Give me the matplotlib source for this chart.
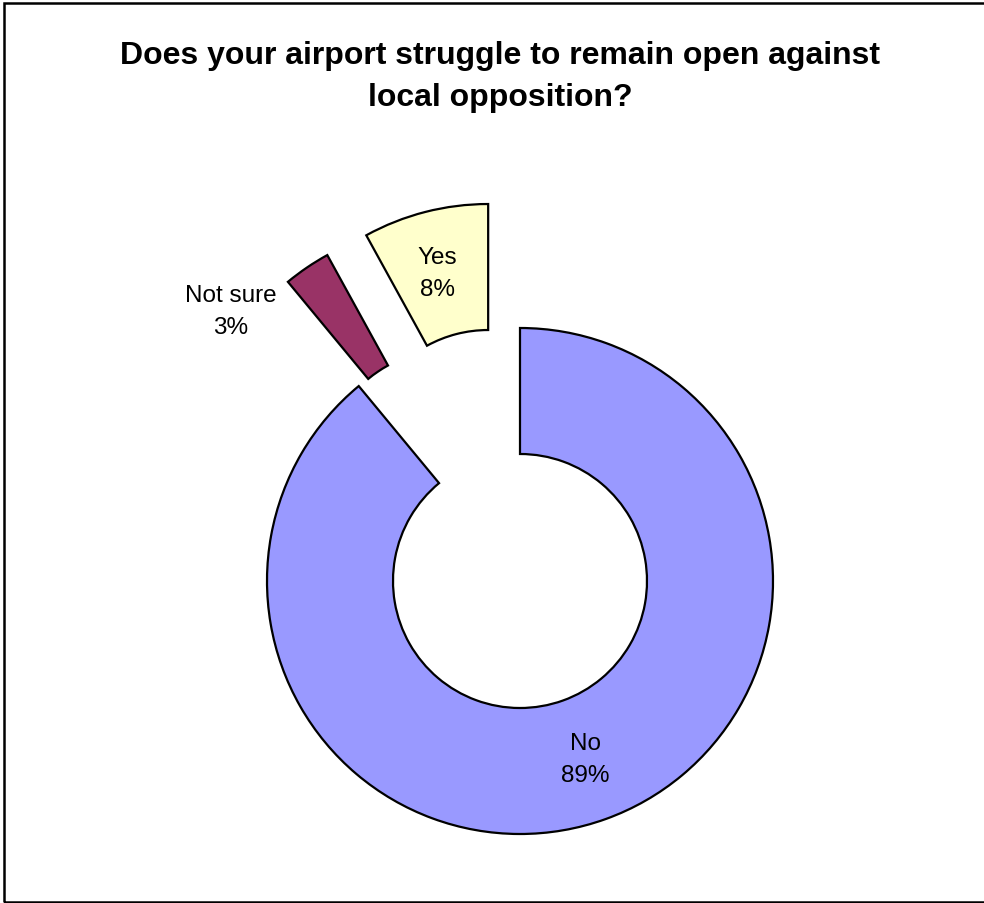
import matplotlib.pyplot as plt
from matplotlib.patches import Rectangle

plt.rcParams["font.family"] = ["Liberation Sans", "DejaVu Sans"]

TITLE = "Does your airport struggle to remain open against\nlocal opposition?"

answers = ["No", "Not sure", "Yes"]
shares = [89, 3, 8]
colors = ["#9999FF", "#993366", "#FFFFCC"]
pulled_out = [0, 126, 128]

# label anchor points in pixel space (x right, y down)
label_pos = {"No": (585, 760), "Not sure": (231, 312), "Yes": (437, 274)}

W, H = 984, 904
fig = plt.figure(figsize=(W / 100, H / 100), dpi=100)
ax = fig.add_axes([0, 0, 1, 1])

cx, cy = 520, H - 582
r_out, r_in = 253, 127

ax.pie(
    shares,
    colors=colors,
    explode=pulled_out,
    startangle=90,
    counterclock=False,
    center=(cx, cy),
    radius=r_out,
    frame=True,
    wedgeprops=dict(width=r_out - r_in, edgecolor="black", linewidth=1.6),
)
ax.set_xlim(0, W)
ax.set_ylim(0, H)
ax.set_aspect("equal")
ax.axis("off")

for name, val in zip(answers, shares):
    x, y = label_pos[name]
    ax.text(x, H - y, f"{name}\n{val}%", ha="center", va="center",
            fontsize=17.5, linespacing=1.6)

fig.text(500 / W, 1 - 77 / H, TITLE, ha="center", va="center",
         fontsize=23, fontweight="bold", linespacing=1.5)

fig.patches.append(Rectangle((4 / W, 1 / H), 1.2, 1 - 5 / H, transform=fig.transFigure,
                             fill=False, edgecolor="black", linewidth=1.8))

fig.savefig("out.png", dpi=100, facecolor="white")
